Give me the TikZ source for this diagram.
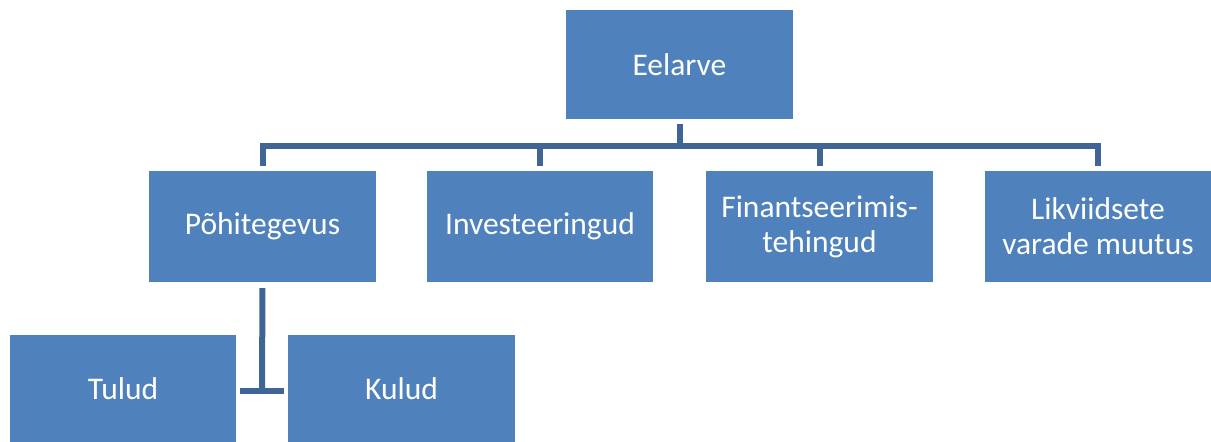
\documentclass[tikz,border=0pt]{standalone}
\usepackage{fontspec}
\setmainfont{Carlito}
\usetikzlibrary{calc}
\definecolor{boxblue}{RGB}{79,129,189}
\definecolor{linkblue}{RGB}{62,101,150}
\tikzset{
  box/.style={draw=none, fill=boxblue, text=white, align=center, inner sep=0pt,
    font=\fontsize{31.5}{35}\selectfont},
  conn/.style={draw=linkblue, line width=6pt}
}
\newcommand{\boxat}[6]{% name, x1, y1, x2, y2, text
  \node[box, minimum width={(#4-#2)*1pt}, minimum height={(#5-#3)*1pt}] (#1) at ({(#2+#4)/2},{(#3+#5)/2}) {#6};}
\begin{document}
\begin{tikzpicture}[x=1pt,y=-1pt]
\useasboundingbox (0,0) rectangle (1211,442);
\boxat{E}{566}{10}{793}{119}{Eelarve}
\boxat{P}{149}{171}{376}{282}{Põhitegevus}
\boxat{I}{427}{171}{653}{282}{Investeeringud}
\boxat{F}{706}{171}{933}{282}{Finantseerimis-\\tehingud}
\boxat{L}{985}{171}{1211}{282}{Likviidsete\\varade muutus}
\boxat{T}{10}{335}{236}{442}{Tulud}
\boxat{K}{288}{335}{515}{442}{Kulud}
\coordinate (bar) at (680,146);
\coordinate (j) at (262,391);
\foreach \n in {P,I,F,L}{
  \draw[conn, shorten <=5pt, shorten >=5pt] (E.south) -- (E.south |- bar) -| (\n.north);
}
\draw[conn, shorten <=6pt] (P.south) -- (j);
\draw[conn, shorten <=4pt, shorten >=4pt] (T.east |- j) -- (K.west |- j);
\end{tikzpicture}
\end{document}
